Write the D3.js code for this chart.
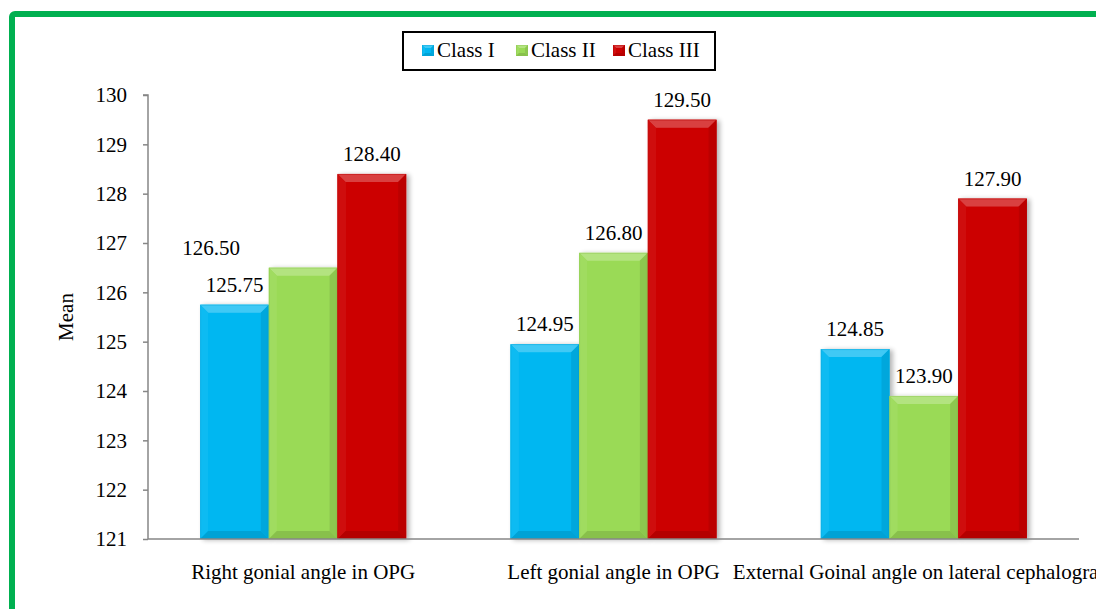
<!DOCTYPE html>
<html><head><meta charset="utf-8">
<script src="https://cdn.jsdelivr.net/npm/d3@7"></script>
<style>body{margin:0;background:#fff}svg{display:block}svg text{font-family:"Liberation Serif","Times New Roman",serif !important;fill:#000}</style>
</head><body><svg id="c" width="1096" height="609"></svg>
<script>
const categories = ["Right gonial angle in OPG", "Left gonial angle in OPG", "External Goinal angle on lateral cephalogram"];
const seriesNames = ["Class I", "Class II", "Class III"];
const classI = [125.75, 124.95, 124.85];
const classII = [126.50, 126.80, 123.90];
const classIII = [128.40, 129.50, 127.90];
const yTicks = [121, 122, 123, 124, 125, 126, 127, 128, 129, 130];
const colors = ["#00B7F1", "#9ADA56", "#CC0000"];
const series = [classI, classII, classIII];

(function () {
const FS = "21px";
const svg = d3.select("#c");
// green frame
svg.append("rect").attr("x", 12).attr("y", 14).attr("width", 1200).attr("height", 700)
  .attr("rx", 3).attr("fill", "#fff").attr("stroke", "#00B050").attr("stroke-width", 6);

const pL = 148, pR = 1079, pT = 95, pB = 539;
const x0 = d3.scaleBand().domain(categories).range([pL, pR]).paddingInner(0).paddingOuter(0);
const x1 = d3.scaleBand().domain(seriesNames).range([0, 206]);
const y = d3.scaleLinear().domain([121, 130]).range([pB, pT]);

const defs = svg.append("defs");
const sh = defs.append("filter").attr("id", "sh").attr("x", "-20%").attr("y", "-20%").attr("width", "150%").attr("height", "150%");
sh.append("feGaussianBlur").attr("in", "SourceAlpha").attr("stdDeviation", 2.5);
sh.append("feOffset").attr("dx", 3).attr("dy", 1).attr("result", "b");
sh.append("feComponentTransfer").append("feFuncA").attr("type", "linear").attr("slope", 0.3);
const m = sh.append("feMerge"); m.append("feMergeNode"); m.append("feMergeNode").attr("in", "SourceGraphic");

function bevel(g, x, yy, w, h, color, b, shadow) {
  const c = d3.color(color);
  const gg = g.append("g");
  if (shadow) gg.attr("filter", "url(#sh)");
  gg.append("rect").attr("x", x).attr("y", yy).attr("width", w).attr("height", h).attr("fill", color);
  const bb = Math.min(b, h / 2, w / 2);
  const pts = (a) => a.map(p => p.join(",")).join(" ");
  gg.append("polygon").attr("points", pts([[x, yy], [x + w, yy], [x + w - bb, yy + bb], [x + bb, yy + bb]]))
    .attr("fill", d3.interpolateRgb(color, "#fff")(0.25));
  gg.append("polygon").attr("points", pts([[x, yy], [x + bb, yy + bb], [x + bb, yy + h - bb], [x, yy + h]]))
    .attr("fill", d3.interpolateRgb(color, "#fff")(0.06));
  gg.append("polygon").attr("points", pts([[x + w, yy], [x + w, yy + h], [x + w - bb, yy + h - bb], [x + w - bb, yy + bb]]))
    .attr("fill", c.darker(0.25));
  gg.append("polygon").attr("points", pts([[x, yy + h], [x + bb, yy + h - bb], [x + w - bb, yy + h - bb], [x + w, yy + h]]))
    .attr("fill", c.darker(0.35));
  gg.append("rect").attr("x", x + 0.5).attr("y", yy + 0.5).attr("width", w - 1).attr("height", h - 1)
    .attr("fill", "none").attr("stroke", c.darker(0.3)).attr("stroke-opacity", 0.4);
}

// axes
const yAxis = d3.axisLeft(y).tickValues(yTicks).tickSize(5).tickPadding(16).tickFormat(d3.format("d"));
const ga = svg.append("g").attr("transform", `translate(${pL},0)`).call(yAxis)
  .attr("font-family", null).attr("font-size", null);
ga.select(".domain").attr("stroke", "#868686").attr("stroke-width", 1.5).attr("d", `M-5,${pT}H0V${pB}`);
ga.selectAll(".tick line").attr("stroke", "#868686").attr("stroke-width", 1.5);
ga.selectAll(".tick text").style("font-size", FS).attr("fill", "#000").attr("dy", "0.33em");

// bars
const gb = svg.append("g");
categories.forEach((cat, i) => {
  const gx = x0(cat) + (x0.bandwidth() - 206) / 2;
  series.forEach((s, j) => {
    const bx = gx + x1(seriesNames[j]);
    bevel(gb, bx, y(s[i]), x1.bandwidth(), pB - y(s[i]), colors[j], 8, true);
  });
});

// x axis line
svg.append("line").attr("x1", pL).attr("x2", pR).attr("y1", pB).attr("y2", pB)
  .attr("stroke", "#868686").attr("stroke-width", 1.5);

// value labels
categories.forEach((cat, i) => {
  const gx = x0(cat) + (x0.bandwidth() - 206) / 2;
  series.forEach((s, j) => {
    let lx = gx + x1(seriesNames[j]) + x1.bandwidth() / 2;
    let ly = y(s[i]) - 13;
    if (i === 0 && j === 1) { lx = gx + x1(seriesNames[0]) + 11; }
    svg.append("text").attr("x", lx).attr("y", ly).attr("text-anchor", "middle")
      .style("font-size", FS).text(s[i].toFixed(2));
  });
});

// category labels
svg.selectAll(".cl").data(categories).enter().append("text")
  .attr("x", d => x0(d) + x0.bandwidth() / 2).attr("y", 579).attr("text-anchor", "middle")
  .style("font-size", FS).text(d => d);

// y title
svg.append("text").attr("transform", "translate(73,317) rotate(-90)").attr("text-anchor", "middle")
  .style("font-size", FS).text("Mean");

// legend
const lg = svg.append("g");
lg.append("rect").attr("x", 403).attr("y", 32).attr("width", 312).attr("height", 38)
  .attr("fill", "#fff").attr("stroke", "#000").attr("stroke-width", 2);
const legX = [422, 516, 613];
seriesNames.forEach((n, j) => {
  bevel(lg, legX[j], 45, 12, 11, colors[j], 3, false);
  lg.append("text").attr("x", legX[j] + 15).attr("y", 57).style("font-size", FS).text(n);
});
})();
</script></body></html>
